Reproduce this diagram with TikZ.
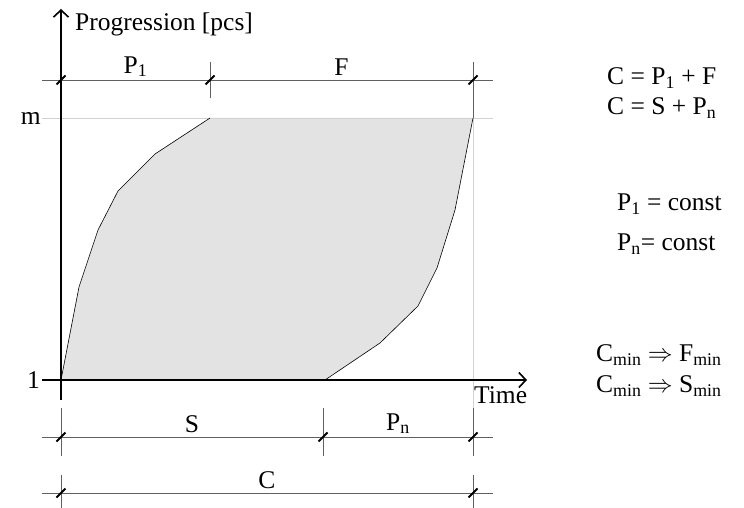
\documentclass[tikz,border=0pt]{standalone}
\usepackage{fontspec}
\setmainfont{Liberation Serif}
\usetikzlibrary{arrows.meta,positioning,calc}

\begin{document}
\begin{tikzpicture}[
        x=1pt, y=-1pt,
        every node/.style={font=\fontsize{25.5}{30}\selectfont, inner sep=0pt},
        axis/.style={line width=1.6pt, -{Straight Barb[length=7pt,width=15pt,line width=1.6pt]}},
        dimline/.style={draw=gray!75!black, line width=0.8pt},
        guide/.style={draw=gray!35, line width=0.8pt},
        tickmark/.style={line width=2pt},
        curve/.style={draw=black, line width=0.6pt},
        area/.style={fill=gray!22},
        eq/.style={anchor=west},
    ]
    \useasboundingbox (0,0) rectangle (744,508);

    % key points of the chart
    \coordinate (O) at (61,380);
    \coordinate (M) at (61,118);
    \coordinate (A) at (210,118);
    \coordinate (B) at (473,118);
    \coordinate (D) at (325,380);
    \coordinate (E) at (473,380);

    % shaded progression band
    \fill[area] (O) -- (79,287) -- (98,230) -- (118,191) -- (155,154) -- (A)
        -- (B) -- (455,210) -- (437,268) -- (418,306) -- (380,343) -- (D) -- cycle;
    \draw[guide] (42,118) -- (493,118);
    \draw[guide] (B) -- (473,410);
    \draw[curve] (O) -- (79,287) -- (98,230) -- (118,191) -- (155,154) -- (A);
    \draw[curve] (D) -- (380,343) -- (418,306) -- (437,268) -- (455,210) -- (B);

    % axes
    \draw[axis] (61,400) -- (61,9) coordinate (ytip);
    \draw[axis] (42,380) -- (527,380) coordinate (xtip);
    \node[anchor=west] (ylab) at (75,24) {Progression [pcs]};
    \node[anchor=north west] (xlab) at (474,386) {Time};
    \node[anchor=east] (mlab) at (41,118) {m};
    \node[anchor=east] (onelab) at (40,380) {1};

    % dimension chains
    \coordinate (t0) at (61,80);
    \coordinate (t1) at (210,80);
    \coordinate (t2) at (473,80);
    \coordinate (s0) at (61,437);
    \coordinate (s1) at (323,437);
    \coordinate (s2) at (473,437);
    \coordinate (c0) at (61,493);
    \coordinate (c2) at (473,493);

    \draw[dimline] (42,80) -- (493,80);
    \draw[dimline] (42,437) -- (493,437);
    \draw[dimline] (42,493) -- (493,493);
    \draw[dimline] (210,62) -- (210,98);
    \draw[dimline] (473,62) -- (B);
    \foreach \x in {61,323,473}
        \draw[dimline] (\x,408) -- (\x,456);
    \foreach \x in {61,473}
        \draw[dimline] (\x,475) -- (\x,508);
    \foreach \p in {t0,t1,t2,s0,s1,s2,c0,c2}
        \draw[tickmark] ($(\p)+(-4.5,4.5)$) -- ($(\p)+(4.5,-4.5)$);

    \path (t0) -- (t1) node[midway, above=3pt] (p1) {P\textsubscript{1}};
    \path (t1) -- (t2) node[midway, above=4pt] (f) {F};
    \path (s0) -- (s1) node[midway, above=4pt] (s) {S};
    \path (s1) -- (s2) node[midway, above=3pt] (pn) {P\textsubscript{n}};
    \path (c0) -- (c2) node[midway, above=4pt] (c) {C};

    % relations
    \node[eq] (eq1) at (607,78) {C = P\textsubscript{1} + F};
    \node[eq] (eq2) at (607,108) {C = S + P\textsubscript{n}};
    \node[eq] (eq3) at (617,204) {P\textsubscript{1} = const};
    \node[eq] (eq4) at (617,244) {P\textsubscript{n}= const};
    \node[eq] (eq5) at (596,355) {C\textsubscript{min} $\Rightarrow$ F\textsubscript{min}};
    \node[eq] (eq6) at (596,386) {C\textsubscript{min} $\Rightarrow$ S\textsubscript{min}};
\end{tikzpicture}
\end{document}
